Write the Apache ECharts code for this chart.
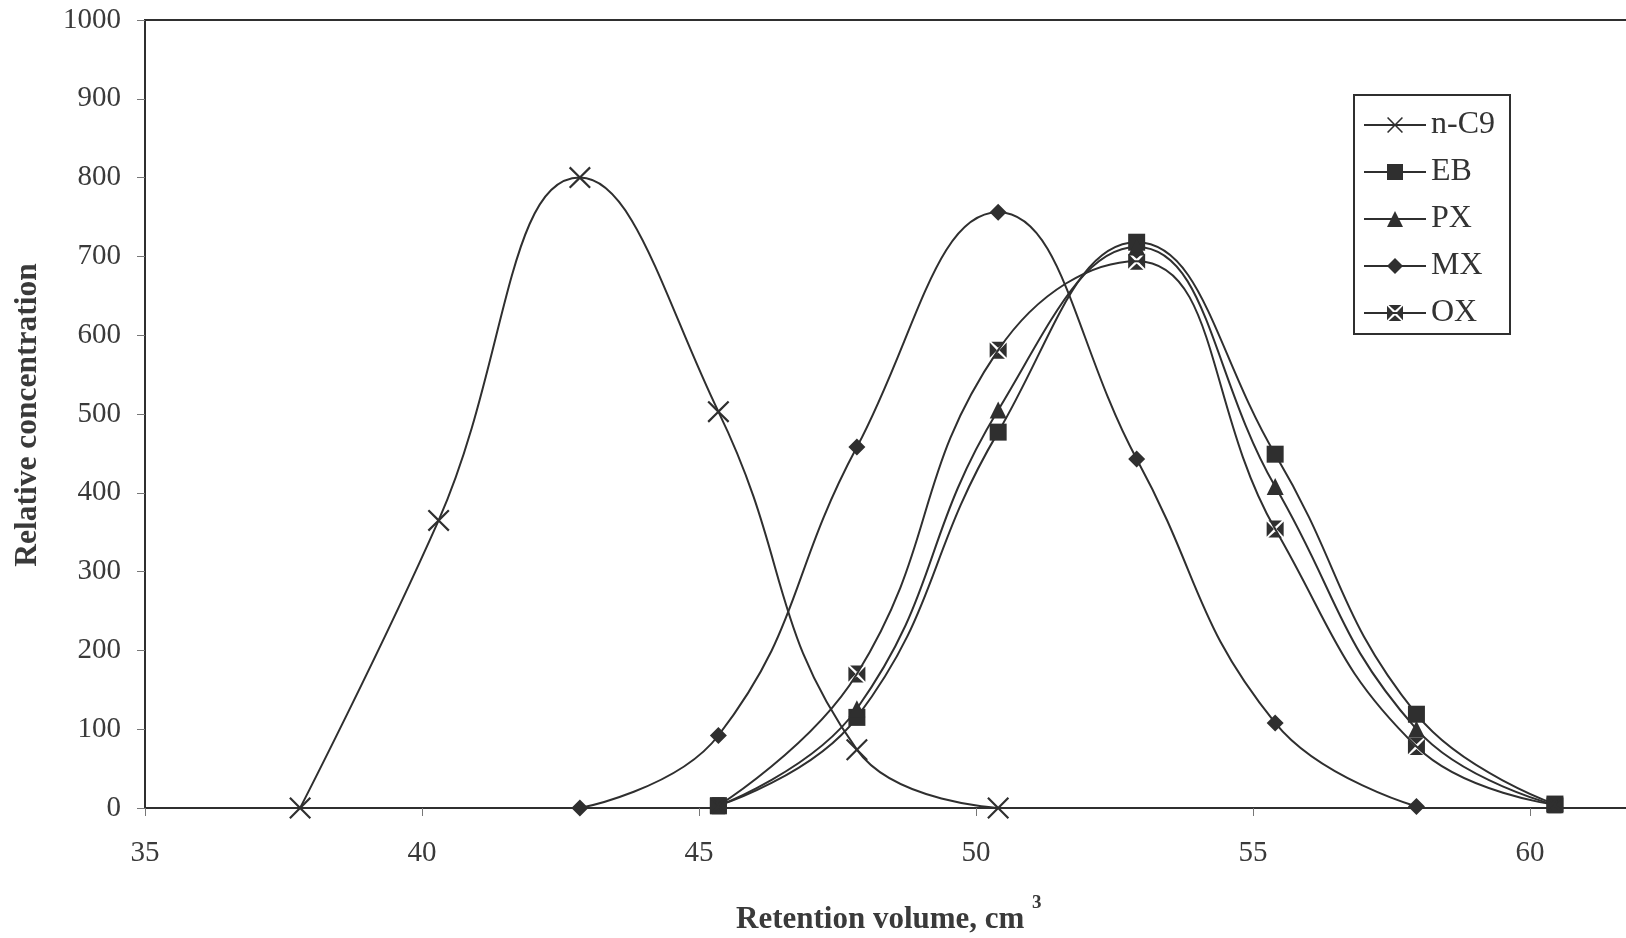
<!DOCTYPE html>
<html>
<head>
<meta charset="utf-8">
<title>Retention profiles</title>
<script src="https://cdn.jsdelivr.net/npm/echarts@6/dist/echarts.min.js"></script>
<style>
  html, body { margin: 0; padding: 0; background: #ffffff; }
  #chart { width: 1626px; height: 938px; }
</style>
</head>
<body>
<div id="chart"></div>
<script>
// Retention volume (cm3) of each sampled fraction
const volNC9 = [37.8, 40.3, 42.85, 45.35, 47.85, 50.4];
const volMX  = [42.85, 45.35, 47.85, 50.4, 52.9, 55.4, 57.95];
const volArom = [45.35, 47.85, 50.4, 52.9, 55.4, 57.95, 60.45];

// Relative concentration of each component
const nC9 = [0, 365, 800, 503, 74, 0];
const EB  = [3, 115, 477, 718, 449, 119, 5];
const PX  = [3, 126, 505, 712, 408, 100, 4];
const MX  = [0, 92, 458, 756, 443, 108, 2];
const OX  = [3, 170, 581, 694, 354, 78, 4];

const seriesNames = ['n-C9', 'EB', 'PX', 'MX', 'OX'];
const yTicks = { min: 0, max: 1000, step: 100 };
const xTicks = { min: 35, max: 65, step: 5 };

const ink = '#2f2f2f';
const serif = '"Liberation Serif", "DejaVu Serif", serif';

const crossSymbol = 'path://M0,0.7 L0.7,0 L5,4.3 L9.3,0 L10,0.7 L5.7,5 L10,9.3 L9.3,10 L5,5.7 L0.7,10 L0,9.3 L4.3,5 Z';
const starSymbol  = 'path://M0,0.5 L4.3,5 L0,9.5 Z M10,0.5 L5.7,5 L10,9.5 Z M1,0 L9,0 L5,3.6 Z M1,10 L9,10 L5,6.4 Z';

function zip(xs, ys) { return xs.map((x, i) => [x, ys[i]]); }

function curve(name, xs, ys, symbol, size) {
  return {
    name: name,
    type: 'line',
    data: zip(xs, ys),
    smooth: 0.45,
    symbol: symbol,
    symbolSize: size,
    showAllSymbol: true,
    lineStyle: { color: ink, width: 2 },
    itemStyle: { color: ink },
    emphasis: { disabled: true },
    z: 3
  };
}

const chart = echarts.init(document.getElementById('chart'), null, { renderer: 'canvas' });

chart.setOption({
  animation: false,
  backgroundColor: '#ffffff',
  textStyle: { fontFamily: serif },
  grid: {
    left: 145, top: 20, bottom: 130, right: -181,
    outerBoundsMode: 'none',
    containLabel: false,
    show: true, borderColor: ink, borderWidth: 2, backgroundColor: 'transparent'
  },
  xAxis: {
    type: 'value',
    min: xTicks.min, max: xTicks.max, interval: xTicks.step,
    axisLine: { show: true, lineStyle: { color: ink, width: 2 } },
    axisTick: { show: true, inside: false, length: 8, lineStyle: { color: '#777', width: 1 } },
    axisLabel: { margin: 31, fontSize: 29, color: '#3a3a3a', fontFamily: serif, formatter: v => String(v) },
    splitLine: { show: false }
  },
  yAxis: {
    type: 'value',
    min: yTicks.min, max: yTicks.max, interval: yTicks.step,
    axisLine: { show: true, lineStyle: { color: ink, width: 2 } },
    axisTick: { show: true, inside: false, length: 8, lineStyle: { color: '#777', width: 1 } },
    axisLabel: { margin: 24, fontSize: 29, color: '#3a3a3a', fontFamily: serif, formatter: v => String(v) },
    splitLine: { show: false }
  },
  legend: {
    data: seriesNames,
    orient: 'vertical',
    left: 1354, top: 95,
    padding: [14, 15, 5, 9],
    itemWidth: 62, itemHeight: 20, itemGap: 15,
    borderColor: ink, borderWidth: 2,
    backgroundColor: '#ffffff',
    textStyle: { fontSize: 32, color: '#333', fontFamily: serif },
    selectedMode: false
  },
  graphic: [
    {
      type: 'text', x: 28, y: 415, rotation: Math.PI / 2,
      style: {
        text: 'Relative concentration', fontSize: 31.5, fontWeight: 'bold',
        fontFamily: serif, fill: '#3a3a3a', align: 'center', verticalAlign: 'middle'
      }
    },
    {
      type: 'text', x: 736, y: 920,
      style: {
        text: 'Retention volume, cm', fontSize: 31, fontWeight: 'bold',
        fontFamily: serif, fill: '#3a3a3a', align: 'left', verticalAlign: 'middle'
      }
    },
    {
      type: 'text', x: 1032, y: 903,
      style: {
        text: '3', fontSize: 19, fontWeight: 'bold',
        fontFamily: serif, fill: '#3a3a3a', align: 'left', verticalAlign: 'middle'
      }
    }
  ],
  series: [
    curve('n-C9', volNC9, nC9, crossSymbol, 22),
    curve('EB', volArom, EB, 'rect', 17),
    curve('PX', volArom, PX, 'triangle', 17),
    curve('MX', volMX, MX, 'diamond', 17),
    curve('OX', volArom, OX, starSymbol, 17)
  ]
});
</script>
</body>
</html>
